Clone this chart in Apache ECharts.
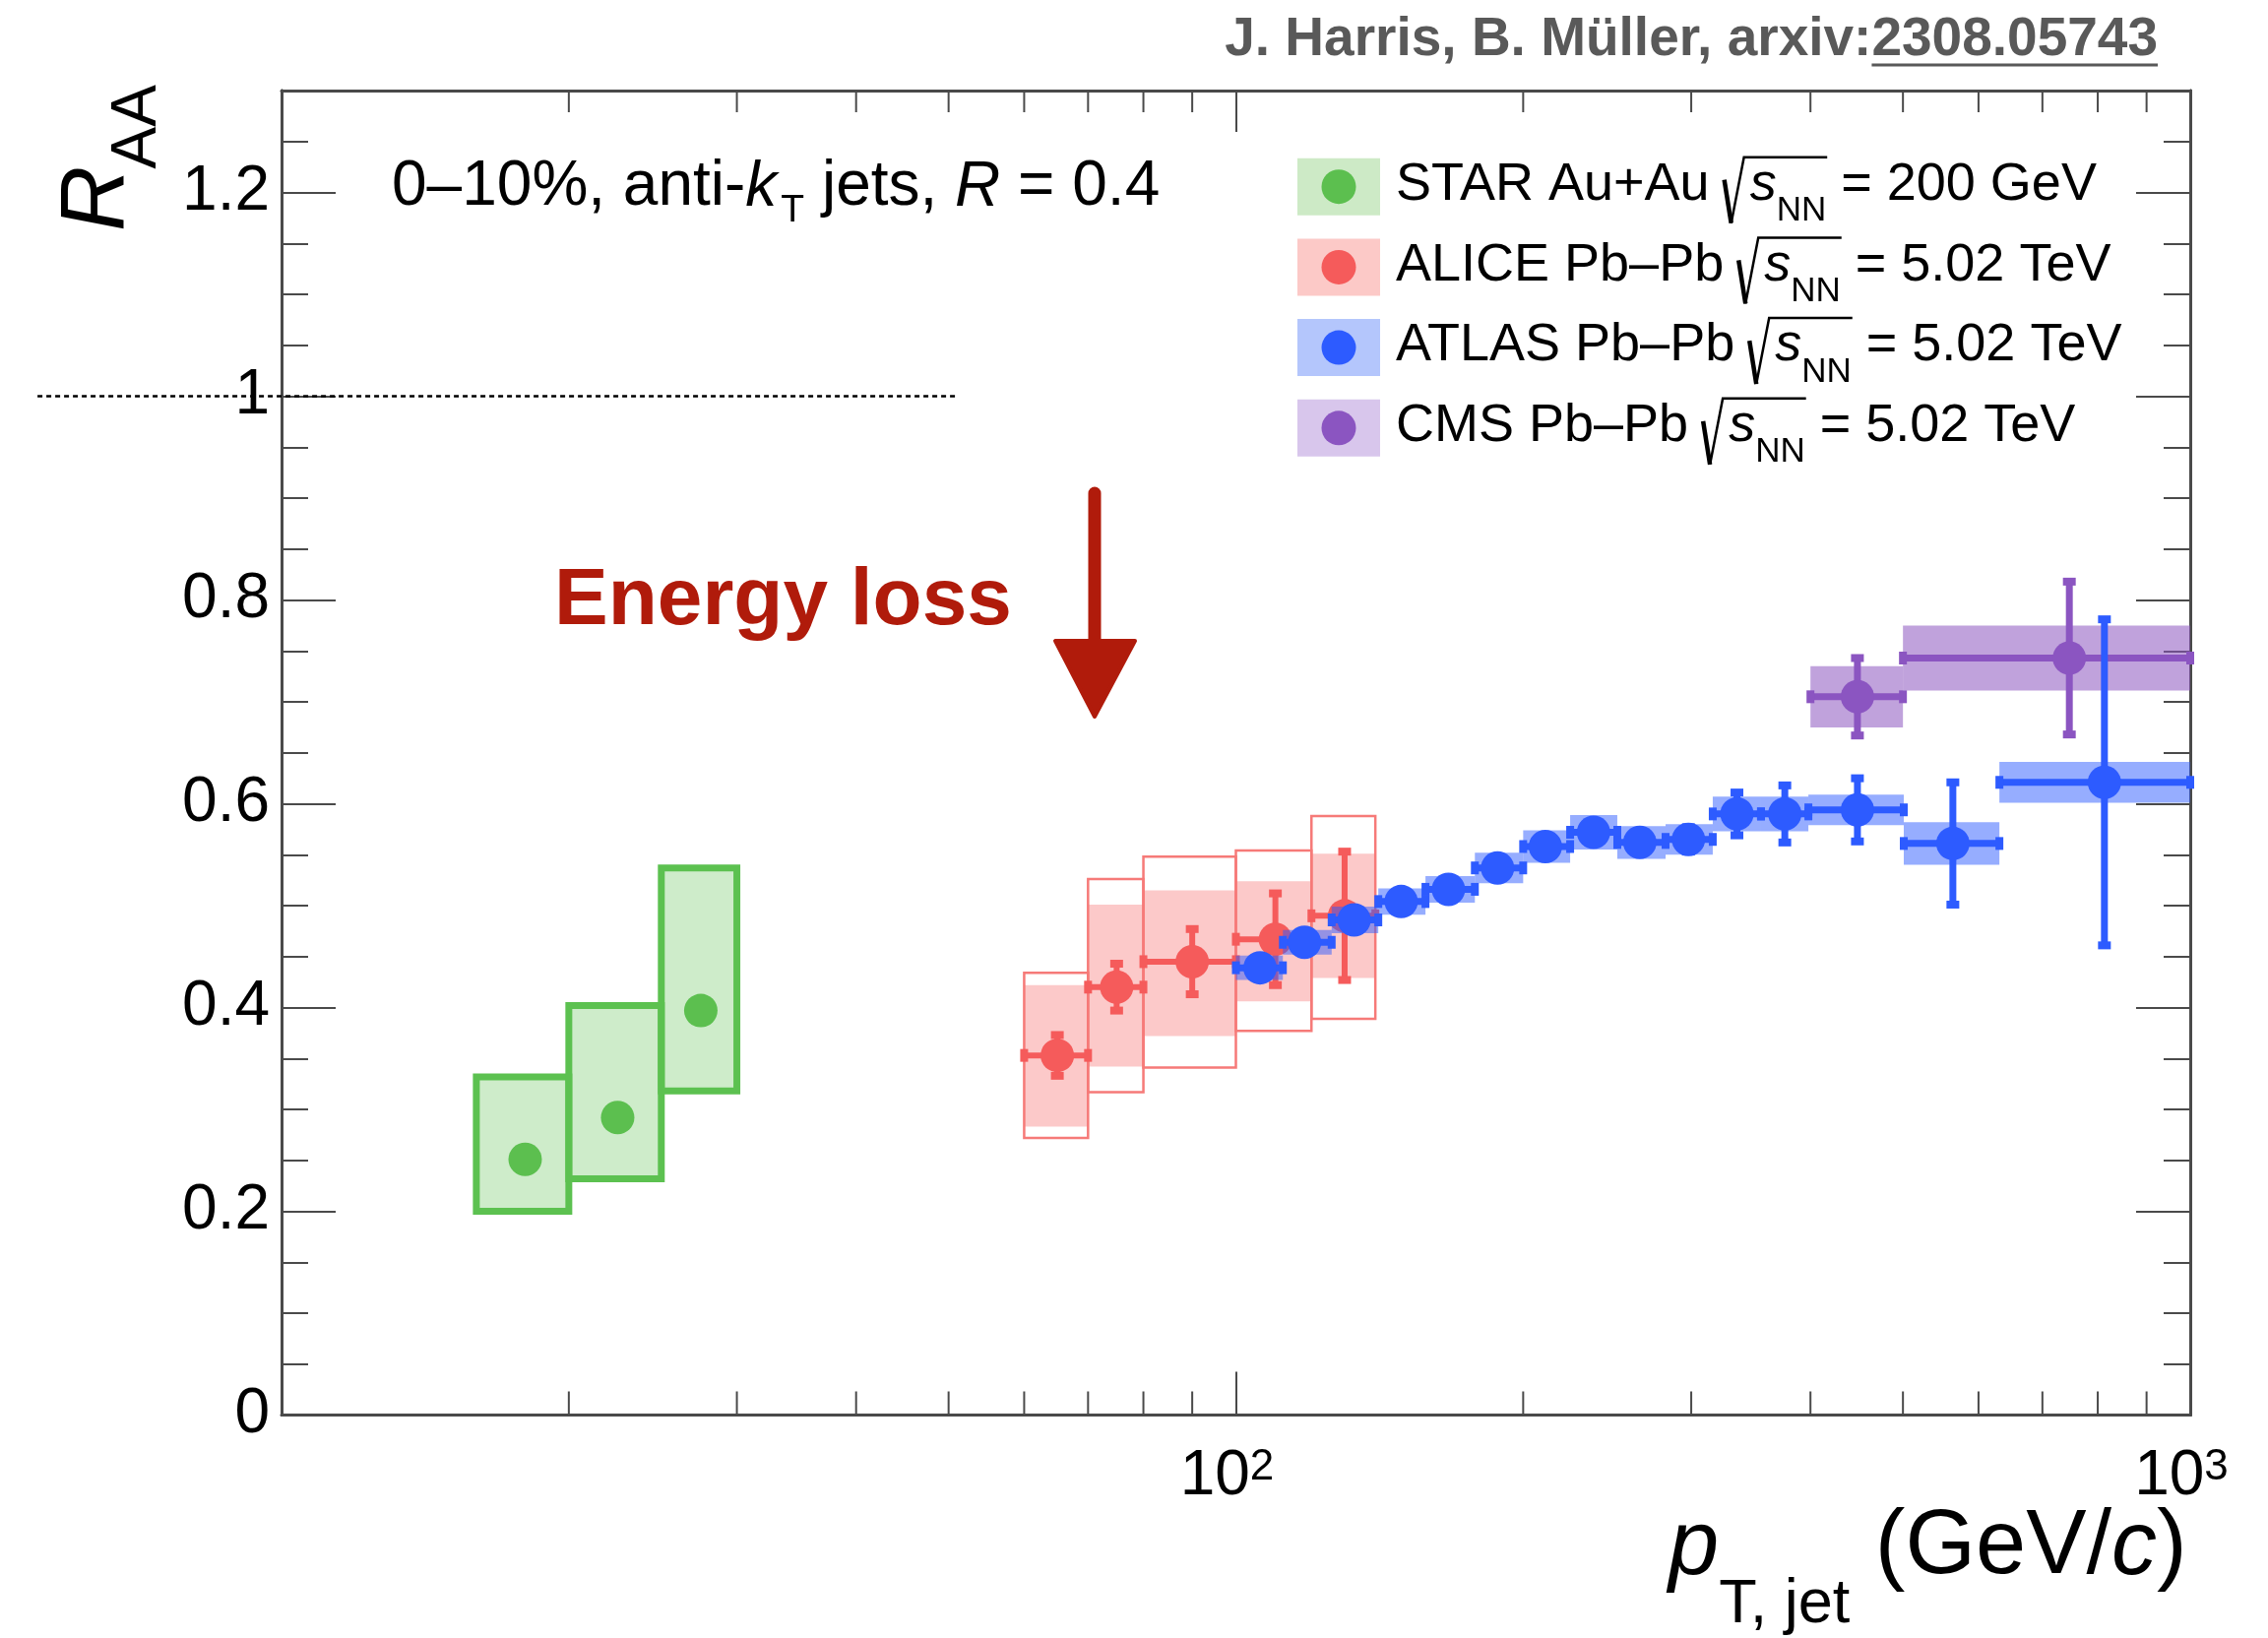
<!DOCTYPE html>
<html>
<head>
<meta charset="utf-8">
<script src="https://cdn.jsdelivr.net/npm/echarts@6/dist/echarts.min.js"></script>
<style>
  html, body { margin: 0; padding: 0; background: #fff; }
  #chart { width: 2304px; height: 1664px; }
</style>
</head>
<body>
<div id="chart"></div>
<script>
// ---------------- data: jet R_AA, 0-10% central, anti-kT R = 0.4 ----------------
// STAR Au+Au 200 GeV
const starPt     = [18, 22.5, 27.5];
const starBinLo  = [16, 20, 25];
const starBinHi  = [20, 25, 30];
const starRaa    = [0.251, 0.292, 0.397];
const starSysLo  = [0.200, 0.232, 0.318];
const starSysHi  = [0.332, 0.402, 0.537];

// ALICE Pb-Pb 5.02 TeV
const alicePt      = [65, 75, 90, 110, 130];
const aliceBinLo   = [60, 70, 80, 100, 120];
const aliceBinHi   = [70, 80, 100, 120, 140];
const aliceRaa     = [0.353, 0.420, 0.445, 0.467, 0.490];
const aliceStat    = [0.020, 0.023, 0.032, 0.045, 0.063];
const aliceShapeLo = [0.283, 0.342, 0.372, 0.406, 0.429];
const aliceShapeHi = [0.422, 0.501, 0.515, 0.524, 0.551];
const aliceCorrLo  = [0.272, 0.317, 0.341, 0.377, 0.389];
const aliceCorrHi  = [0.434, 0.526, 0.548, 0.554, 0.588];

// ATLAS Pb-Pb 5.02 TeV
const atlasPt    = [106, 118, 133, 149, 167, 188, 211, 237, 265, 298, 335, 376, 448, 564, 813];
const atlasBinLo = [100, 112, 126, 141, 158, 178, 200, 224, 251, 282, 316, 355, 398, 501, 631];
const atlasBinHi = [112, 126, 141, 158, 178, 200, 224, 251, 282, 316, 355, 398, 501, 631, 1000];
const atlasRaa   = [0.439, 0.464, 0.486, 0.504, 0.516, 0.537, 0.558, 0.572, 0.562, 0.565, 0.590, 0.590, 0.594, 0.561, 0.621];
const atlasStat  = [0.006, 0.006, 0.007, 0.007, 0.008, 0.008, 0.009, 0.010, 0.010, 0.012, 0.021, 0.028, 0.031, 0.060, 0.160];
const atlasSys   = [0.012, 0.012, 0.013, 0.013, 0.013, 0.015, 0.016, 0.017, 0.016, 0.015, 0.017, 0.017, 0.015, 0.021, 0.020];

// CMS Pb-Pb 5.02 TeV
const cmsPt    = [448, 747];
const cmsBinLo = [400, 500];
const cmsBinHi = [500, 1000];
const cmsRaa   = [0.705, 0.743];
const cmsStat  = [0.038, 0.075];
const cmsSys   = [0.030, 0.032];

// axis ticks
const xMinorTicks = [20, 30, 40, 50, 60, 70, 80, 90, 200, 300, 400, 500, 600, 700, 800, 900];
const unityLine = [[5.55, 1, 51]];   // [x start, R_AA, x end]

// ---------------- styling ----------------
const FONT = '"Liberation Sans", Arial, Helvetica, sans-serif';
const AXIS_COLOR = '#4a4a4a';
const COL = {
  star:  { dot: '#5cbf4f', line: '#5cc150', band: 'rgba(92,191,79,0.30)', legend: '#cdeac6' },
  alice: { dot: '#f55b5b', line: '#f67a78', band: 'rgba(245,90,90,0.33)', legend: '#fcc9c7' },
  atlas: { dot: '#2d5bff', band: 'rgba(45,91,255,0.50)', legend: '#b4c6fc' },
  cms:   { dot: '#8b55c1', band: 'rgba(140,85,192,0.55)', legend: '#d8c6ec' }
};
const MARKER_R = 17;

// rows fed to the custom series
const starBand = starPt.map((p, i) => [p, starRaa[i], starBinLo[i], starBinHi[i], starSysLo[i], starSysHi[i]]);
const starPts  = starPt.map((p, i) => [p, starRaa[i]]);
const aliceBand = alicePt.map((p, i) => [p, aliceRaa[i], aliceBinLo[i], aliceBinHi[i], aliceShapeLo[i], aliceShapeHi[i], aliceCorrLo[i], aliceCorrHi[i]]);
const alicePts  = alicePt.map((p, i) => [p, aliceRaa[i], aliceBinLo[i], aliceBinHi[i], aliceRaa[i] - aliceStat[i], aliceRaa[i] + aliceStat[i]]);
const atlasBand = atlasPt.map((p, i) => [p, atlasRaa[i], atlasBinLo[i], atlasBinHi[i], atlasRaa[i] - atlasSys[i], atlasRaa[i] + atlasSys[i]]);
const atlasPts  = atlasPt.map((p, i) => [p, atlasRaa[i], atlasBinLo[i], atlasBinHi[i], atlasRaa[i] - atlasStat[i], atlasRaa[i] + atlasStat[i]]);
const cmsBand = cmsPt.map((p, i) => [p, cmsRaa[i], cmsBinLo[i], cmsBinHi[i], cmsRaa[i] - cmsSys[i], cmsRaa[i] + cmsSys[i]]);
const cmsPts  = cmsPt.map((p, i) => [p, cmsRaa[i], cmsBinLo[i], cmsBinHi[i], cmsRaa[i] - cmsStat[i], cmsRaa[i] + cmsStat[i]]);

// rectangle spanning the bin in x and [dims lo, hi] in y
function boxRenderer(loDim, hiDim, fill, stroke, lineWidth) {
  return function (params, api) {
    const a = api.coord([api.value(2), api.value(loDim)]);
    const b = api.coord([api.value(3), api.value(hiDim)]);
    return {
      type: 'rect',
      shape: { x: a[0], y: b[1], width: b[0] - a[0], height: a[1] - b[1] },
      style: { fill: fill || 'none', stroke: stroke || 'none', lineWidth: lineWidth || 0 }
    };
  };
}

// marker with optional x (bin) and y (stat) error bars and end caps
function pointRenderer(color, withBars, barW) {
  return function (params, api) {
    const c = api.coord([api.value(0), api.value(1)]);
    const children = [];
    if (withBars) {
      const xl = api.coord([api.value(2), api.value(1)])[0];
      const xh = api.coord([api.value(3), api.value(1)])[0];
      const yl = api.coord([api.value(0), api.value(4)])[1];
      const yh = api.coord([api.value(0), api.value(5)])[1];
      const st = { stroke: color, lineWidth: barW };
      children.push({ type: 'line', shape: { x1: xl, y1: c[1], x2: xh, y2: c[1] }, style: st });
      children.push({ type: 'line', shape: { x1: c[0], y1: yl, x2: c[0], y2: yh }, style: st });
      const capL = 13, capS = 8;
      [xl, xh].forEach(x => children.push({ type: 'rect', shape: { x: x - capS / 2, y: c[1] - capL / 2, width: capS, height: capL }, style: { fill: color } }));
      [yl, yh].forEach(y => children.push({ type: 'rect', shape: { x: c[0] - capL / 2, y: y - capS / 2, width: capL, height: capS }, style: { fill: color } }));
    }
    children.push({ type: 'circle', shape: { cx: c[0], cy: c[1], r: MARKER_R }, style: { fill: color } });
    return { type: 'group', children };
  };
}

function customSeries(name, data, renderItem, z) {
  return { type: 'custom', name, data, renderItem, clip: false, silent: true, z: z || 2,
           xAxisIndex: 0, yAxisIndex: 0, encode: { x: 0, y: 1 }, animation: false };
}

// ---------------- text helpers ----------------
const mctx = document.createElement('canvas').getContext('2d');
function measure(t, size, italic, bold) {
  mctx.font = (italic ? 'italic ' : '') + (bold ? 'bold ' : '') + size + 'px ' + FONT;
  return mctx.measureText(t).width;
}
const MID = 0.347; // distance from the em middle to the alphabetic baseline
function textAt(x, baseline, t, size, opt) {
  opt = opt || {};
  return {
    type: 'text', x: x, y: baseline - MID * size, silent: true,
    style: {
      text: t, fontSize: size, fontFamily: FONT,
      fontStyle: opt.italic ? 'italic' : 'normal', fontWeight: opt.bold ? 'bold' : 'normal',
      fill: opt.color || '#000', align: 'left', verticalAlign: 'middle'
    }
  };
}
// lays out a list of runs along one baseline, returns elements and end x
function runs(x, baseline, list, color) {
  const els = [];
  let cx = x;
  list.forEach(r => {
    if (r.gap) { cx += r.gap; return; }
    els.push(textAt(cx, baseline + (r.dy || 0), r.t, r.size, { italic: r.italic, bold: r.bold, color }));
    r.x0 = cx;
    cx += measure(r.t, r.size, r.italic, r.bold);
    r.x1 = cx;
  });
  return { els, end: cx };
}

const graphics = [];

// credit line
(function () {
  const a = 'J. Harris, B. Müller, arxiv:', b = '2308.05743';
  const wa = measure(a, 55, false, true), wb = measure(b, 55, false, true);
  const x0 = 2192 - wa - wb;
  const r = runs(x0, 60, [{ t: a, size: 55, bold: true }, { t: b, size: 55, bold: true }], '#595959');
  graphics.push(...r.els);
  graphics.push({ type: 'line', silent: true, shape: { x1: x0 + wa, y1: 66, x2: x0 + wa + wb, y2: 66 }, style: { stroke: '#595959', lineWidth: 3 } });
})();

// selection label
graphics.push(...runs(398, 213, [
  { t: '0–10%, anti-', size: 64 },
  { t: 'k', size: 64, italic: true },
  { gap: 4 },
  { t: 'T', size: 39, dy: 15 },
  { t: ' jets, ', size: 64 },
  { t: 'R', size: 64, italic: true },
  { t: ' = 0.4', size: 64 }
]).els);

// legend
const legendEntries = [
  { name: 'STAR Au+Au',  energy: '200 GeV',  c: COL.star },
  { name: 'ALICE Pb–Pb', energy: '5.02 TeV', c: COL.alice },
  { name: 'ATLAS Pb–Pb', energy: '5.02 TeV', c: COL.atlas },
  { name: 'CMS Pb–Pb',   energy: '5.02 TeV', c: COL.cms }
];
legendEntries.forEach((e, i) => {
  const b = 206.7 + i * 81.7;
  const cy = b - 17;
  graphics.push({ type: 'rect', silent: true, shape: { x: 1318, y: cy - 29, width: 84, height: 58 }, style: { fill: e.c.legend } });
  graphics.push({ type: 'circle', silent: true, shape: { cx: 1360, cy: cy, r: 17.5 }, style: { fill: e.c.dot } });
  const head = runs(1418, b, [{ t: e.name + ' ', size: 54 }]);
  graphics.push(...head.els);
  const x0 = head.end;
  const body = runs(x0 + 26, b, [
    { t: 's', size: 54, italic: true },
    { t: 'NN', size: 35, dy: 20 }
  ]);
  graphics.push(...body.els);
  graphics.push({ type: 'polyline', silent: true, shape: { points: [[x0, b - 24], [x0 + 7, b + 20]] }, style: { stroke: '#000', lineWidth: 4.5, fill: 'none' } });
  graphics.push({ type: 'polyline', silent: true, shape: { points: [[x0 + 7, b + 20], [x0 + 20, b - 47], [body.end + 1, b - 47]] }, style: { stroke: '#000', lineWidth: 2.5, fill: 'none' } });
  graphics.push(...runs(body.end, b, [{ t: ' = ' + e.energy, size: 54 }]).els);
});

// annotation
graphics.push(textAt(563, 640, 'Energy loss', 82, { bold: true, color: '#b01b0b' }));
graphics.push({ type: 'line', silent: true, shape: { x1: 1112, y1: 501, x2: 1112, y2: 660 }, style: { stroke: '#b01b0b', lineWidth: 13, lineCap: 'round' } });
graphics.push({ type: 'polygon', silent: true, shape: { points: [[1072, 651], [1153, 651], [1112, 728]] }, style: { fill: '#b01b0b', stroke: '#b01b0b', lineWidth: 4, lineJoin: 'round' } });

// axis titles
graphics.push(...runs(1695, 1605, [
  { t: 'p', size: 92, italic: true },
  { t: 'T, jet', size: 63, dy: 47 },
  { t: ' (GeV/', size: 92 },
  { t: 'c', size: 92, italic: true },
  { t: ')', size: 92 }
]).els);
(function () {
  const rw = measure('R', 92, true);
  graphics.push({
    type: 'group', x: 132, y: 235, rotation: Math.PI / 2, silent: true,
    children: [
      textAt(0, 0, 'R', 92, { italic: true }),
      textAt(rw - 3, 31, 'AA', 64)
    ]
  });
})();

// ---------------- axes ----------------
const axisLine = { show: true, onZero: false, lineStyle: { color: AXIS_COLOR, width: 3 } };
function yAx(position, interval, tickLen, showLabel) {
  return {
    type: 'value', position, min: 0, max: 1.3, interval,
    axisLine, splitLine: { show: false },
    axisTick: { show: true, inside: true, length: tickLen, lineStyle: { color: AXIS_COLOR, width: 2 } },
    axisLabel: {
      show: showLabel, margin: 12, fontSize: 64, fontFamily: FONT, color: '#000',
      formatter: v => (v > 1.25 ? '' : String(+v.toFixed(2)))
    }
  };
}

const option = {
  animation: false,
  backgroundColor: '#fff',
  grid: { left: 286, right: 79, top: 92, bottom: 226.5, containLabel: false, outerBoundsMode: 'none' },
  xAxis: [
    {
      type: 'log', logBase: 10, min: 10, max: 1000, position: 'bottom',
      axisLine, splitLine: { show: false },
      axisTick: { show: true, inside: true, length: 44, lineStyle: { color: AXIS_COLOR, width: 2 } },
      axisLabel: {
        margin: 31, color: '#000',
        formatter: v => { const e = Math.round(Math.log10(v)); return e >= 2 ? '{b|10}{sup|' + e + '}' : ''; },
        rich: {
          b: { fontSize: 64, lineHeight: 64, fontFamily: FONT, color: '#000' },
          sup: { fontSize: 44, lineHeight: 30, verticalAlign: 'top', fontFamily: FONT, color: '#000', padding: [0, 18, 0, 0] }
        }
      }
    },
    {
      type: 'log', logBase: 10, min: 10, max: 1000, position: 'top',
      axisLine, splitLine: { show: false },
      axisTick: { show: true, inside: true, length: 42, lineStyle: { color: AXIS_COLOR, width: 2 } },
      axisLabel: { show: false }
    }
  ],
  yAxis: [
    yAx('left', 0.2, 55, true),
    yAx('left', 0.05, 27, false),
    yAx('right', 0.2, 55, false),
    yAx('right', 0.05, 27, false)
  ],
  graphic: { elements: graphics },
  series: [
    customSeries('unity', unityLine, function (params, api) {
      const a = api.coord([api.value(0), api.value(1)]);
      const b = api.coord([api.value(2), api.value(1)]);
      return { type: 'line', shape: { x1: a[0], y1: a[1], x2: b[0], y2: b[1] }, style: { stroke: '#000', lineWidth: 2.5, lineDash: [5, 4] } };
    }, 1),
    customSeries('STAR sys', starBand, boxRenderer(4, 5, COL.star.band, COL.star.line, 7)),
    customSeries('STAR', starPts, pointRenderer(COL.star.dot, false, 0)),
    customSeries('ALICE shape', aliceBand, boxRenderer(4, 5, COL.alice.band, null, 0)),
    customSeries('ALICE corr', aliceBand, boxRenderer(6, 7, null, COL.alice.line, 2.5)),
    customSeries('ALICE', alicePts, pointRenderer(COL.alice.dot, true, 6)),
    customSeries('CMS sys', cmsBand, boxRenderer(4, 5, COL.cms.band, null, 0)),
    customSeries('CMS', cmsPts, pointRenderer(COL.cms.dot, true, 7)),
    customSeries('ATLAS sys', atlasBand, boxRenderer(4, 5, COL.atlas.band, null, 0)),
    customSeries('ATLAS', atlasPts, pointRenderer(COL.atlas.dot, true, 7)),
    customSeries('x minor ticks', xMinorTicks.map(v => [v, 0]), function (params, api) {
      const b = api.coord([api.value(0), 0]);
      const t = api.coord([api.value(0), 1.3]);
      const st = { stroke: AXIS_COLOR, lineWidth: 2 };
      return { type: 'group', children: [
        { type: 'line', shape: { x1: b[0], y1: b[1], x2: b[0], y2: b[1] - 24 }, style: st },
        { type: 'line', shape: { x1: t[0], y1: t[1], x2: t[0], y2: t[1] + 22 }, style: st }
      ] };
    }, 5)
  ]
};

const chart = echarts.init(document.getElementById('chart'), null, { renderer: 'canvas', width: 2304, height: 1664 });
chart.setOption(option);
</script>
</body>
</html>
